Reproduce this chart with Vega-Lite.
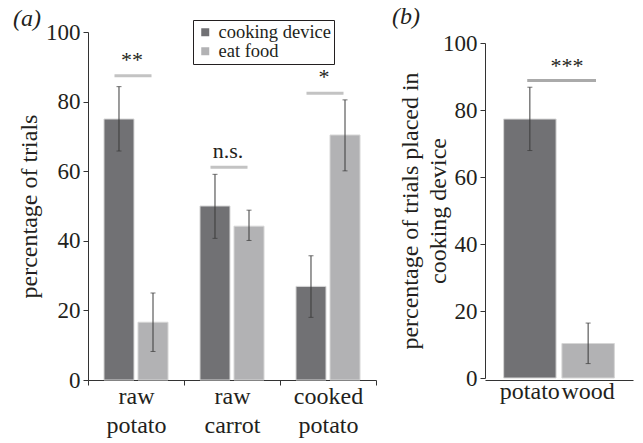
{
  "$schema": "https://vega.github.io/schema/vega-lite/v6.json",
  "background": "white",
  "padding": {"left": 13, "top": 5, "right": 5, "bottom": 5},
  "config": {
    "view": {"stroke": null},
    "font": "Times New Roman, Liberation Serif, serif",
    "axis": {"grid": false, "labelFont": "Times New Roman, Liberation Serif, serif", "titleFont": "Times New Roman, Liberation Serif, serif", "labelColor": "#231f20", "titleColor": "#231f20", "domainColor": "#333333", "tickColor": "#333333", "labelFontSize": 23, "titleFontSize": 24, "titleFontWeight": "normal", "tickSize": 5},
    "legend": {"labelFont": "Times New Roman, Liberation Serif, serif"},
    "text": {"font": "Times New Roman, Liberation Serif, serif"}
  },
  "spacing": 109,
  "bounds": "flush",
  "resolve": {"scale": {"color": "independent"}, "legend": {"color": "independent"}},
  "hconcat": [
    {
      "width": 288,
      "height": 348,
      "title": {"text": "(a)", "anchor": "start", "frame": "group", "dx": -75, "offset": -11, "font": "Times New Roman, Liberation Serif, serif", "fontStyle": "italic", "fontWeight": "normal", "fontSize": 24, "color": "#231f20"},
      "layer": [
        {
          "data": {"name": "a"},
          "mark": {"type": "bar", "stroke": "#d6d6d6", "strokeWidth": 1},
          "encoding": {
            "x": {"field": "food", "type": "nominal", "sort": ["raw potato", "raw carrot", "cooked potato"], "scale": {"paddingInner": 0, "paddingOuter": 0},
              "axis": {"title": null, "labelAngle": 0, "labelExpr": "split(datum.label, ' ')", "labelLineHeight": 29, "labelPadding": -1, "tickBand": "extent", "labelFontSize": 24}},
            "xOffset": {"field": "action", "type": "nominal", "sort": ["cooking device", "eat food"], "scale": {"paddingInner": 0.118, "paddingOuter": 0.47}},
            "y": {"field": "value", "type": "quantitative", "scale": {"domain": [0, 100]},
              "axis": {"title": "percentage of trials", "values": [0, 20, 40, 60, 80, 100], "labelPadding": 3, "titlePadding": 4}},
            "color": {"field": "action", "type": "nominal", "sort": ["cooking device", "eat food"],
              "scale": {"domain": ["cooking device", "eat food"], "range": ["#717174", "#b2b2b4"]},
              "legend": {"title": null, "orient": "none", "legendX": 105, "legendY": -12, "strokeColor": "#231f20", "fillColor": "white", "padding": 3, "symbolType": "square", "symbolSize": 64, "symbolStrokeWidth": 0, "labelFontSize": 18.5, "labelColor": "#231f20", "labelOffset": 4, "rowPadding": 0, "symbolOpacity": 1}}
          }
        },
        {
          "data": {"name": "a"},
          "mark": {"type": "rule", "color": "#3a3a3a", "strokeWidth": 1},
          "encoding": {
            "x": {"field": "food", "type": "nominal", "sort": ["raw potato", "raw carrot", "cooked potato"]},
            "xOffset": {"field": "action", "type": "nominal", "sort": ["cooking device", "eat food"]},
            "y": {"field": "lo", "type": "quantitative"},
            "y2": {"field": "hi"}
          }
        },
        {
          "data": {"name": "a"},
          "mark": {"type": "tick", "orient": "horizontal", "color": "#3a3a3a", "thickness": 1, "size": 5},
          "encoding": {
            "x": {"field": "food", "type": "nominal", "sort": ["raw potato", "raw carrot", "cooked potato"]},
            "xOffset": {"field": "action", "type": "nominal", "sort": ["cooking device", "eat food"]},
            "y": {"field": "lo", "type": "quantitative"}
          }
        },
        {
          "data": {"name": "a"},
          "mark": {"type": "tick", "orient": "horizontal", "color": "#3a3a3a", "thickness": 1, "size": 5},
          "encoding": {
            "x": {"field": "food", "type": "nominal", "sort": ["raw potato", "raw carrot", "cooked potato"]},
            "xOffset": {"field": "action", "type": "nominal", "sort": ["cooking device", "eat food"]},
            "y": {"field": "hi", "type": "quantitative"}
          }
        },
        {
          "data": {"name": "asig"},
          "mark": {"type": "tick", "orient": "horizontal", "color": "#aaaaaa", "thickness": 3, "size": 37, "xOffset": -3},
          "encoding": {
            "x": {"field": "food", "type": "nominal", "sort": ["raw potato", "raw carrot", "cooked potato"]},
            "y": {"field": "y", "type": "quantitative"}
          }
        },
        {
          "data": {"name": "asig"},
          "mark": {"type": "text", "fontSize": 22, "color": "#231f20", "baseline": "bottom", "dy": -4, "dx": -4},
          "encoding": {
            "x": {"field": "food", "type": "nominal", "sort": ["raw potato", "raw carrot", "cooked potato"]},
            "y": {"field": "y", "type": "quantitative"},
            "text": {"field": "label"}
          }
        }
      ]
    },
    {
      "width": 148,
      "height": 348,
      "title": {"text": "(b)", "anchor": "start", "frame": "group", "dx": -93, "offset": 3, "font": "Times New Roman, Liberation Serif, serif", "fontStyle": "italic", "fontWeight": "normal", "fontSize": 24, "color": "#231f20"},
      "layer": [
        {
          "data": {"name": "b"},
          "mark": {"type": "bar", "stroke": "#d6d6d6", "strokeWidth": 1},
          "encoding": {
            "x": {"field": "item", "type": "nominal", "sort": ["potato", "wood"], "scale": {"paddingInner": 0.1, "paddingOuter": 0.32},
              "axis": {"title": null, "labelAngle": 0, "labelPadding": -1, "ticks": false, "labelFontSize": 24}},
            "y": {"field": "value", "type": "quantitative", "scale": {"domain": [0, 100], "range": [346, 11]},
              "axis": {"title": ["percentage of trials placed in", "cooking device"], "titleLineHeight": 28, "values": [0, 20, 40, 60, 80, 100], "labelPadding": 3, "titlePadding": -8}},
            "color": {"field": "item", "type": "nominal", "scale": {"domain": ["potato", "wood"], "range": ["#717174", "#b2b2b4"]}, "legend": null}
          }
        },
        {
          "data": {"name": "b"},
          "mark": {"type": "rule", "color": "#3a3a3a", "strokeWidth": 1},
          "encoding": {
            "x": {"field": "item", "type": "nominal", "sort": ["potato", "wood"]},
            "y": {"field": "lo", "type": "quantitative"},
            "y2": {"field": "hi"}
          }
        },
        {
          "data": {"name": "b"},
          "mark": {"type": "tick", "orient": "horizontal", "color": "#3a3a3a", "thickness": 1, "size": 5},
          "encoding": {
            "x": {"field": "item", "type": "nominal", "sort": ["potato", "wood"]},
            "y": {"field": "lo", "type": "quantitative"}
          }
        },
        {
          "data": {"name": "b"},
          "mark": {"type": "tick", "orient": "horizontal", "color": "#3a3a3a", "thickness": 1, "size": 5},
          "encoding": {
            "x": {"field": "item", "type": "nominal", "sort": ["potato", "wood"]},
            "y": {"field": "hi", "type": "quantitative"}
          }
        },
        {
          "data": {"name": "bsig"},
          "mark": {"type": "rule", "color": "#aaaaaa", "strokeWidth": 3},
          "encoding": {
            "x": {"field": "from", "type": "nominal", "sort": ["potato", "wood"], "bandPosition": 0.45},
            "x2": {"field": "to", "bandPosition": 0.65},
            "y": {"field": "y", "type": "quantitative"}
          }
        },
        {
          "data": {"name": "bsig"},
          "mark": {"type": "text", "fontSize": 22, "color": "#231f20", "baseline": "bottom", "dy": -3, "dx": 11},
          "encoding": {
            "x": {"field": "from", "type": "nominal", "sort": ["potato", "wood"], "bandPosition": 1},
            "y": {"field": "y", "type": "quantitative"},
            "text": {"field": "label"}
          }
        }
      ]
    }
  ],
  "datasets": {
    "a": [
      {"food": "raw potato", "action": "cooking device", "value": 75, "lo": 65.8, "hi": 84.3},
      {"food": "raw potato", "action": "eat food", "value": 16.6, "lo": 8.2, "hi": 25},
      {"food": "raw carrot", "action": "cooking device", "value": 50, "lo": 40.7, "hi": 59.1},
      {"food": "raw carrot", "action": "eat food", "value": 44.2, "lo": 40.1, "hi": 48.8},
      {"food": "cooked potato", "action": "cooking device", "value": 26.9, "lo": 18, "hi": 35.7},
      {"food": "cooked potato", "action": "eat food", "value": 70.4, "lo": 60.1, "hi": 80.5}
    ],
    "asig": [
      {"food": "raw potato", "label": "**", "y": 87.4},
      {"food": "raw carrot", "label": "n.s.", "y": 61.1},
      {"food": "cooked potato", "label": "*", "y": 82.4}
    ],
    "b": [
      {"item": "potato", "value": 77.3, "lo": 67.9, "hi": 86.8},
      {"item": "wood", "value": 10.3, "lo": 4.3, "hi": 16.4}
    ],
    "bsig": [
      {"from": "potato", "to": "wood", "label": "***", "y": 88.8}
    ]
  }
}
